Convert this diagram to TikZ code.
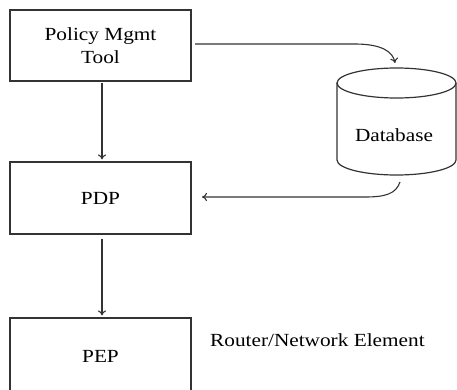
\documentclass[tikz,border=0pt]{standalone}
\usepackage{fontspec}
\setmainfont{Liberation Serif}[FakeStretch=1.15]
\usetikzlibrary{arrows.meta}
\tikzset{
  boxnode/.style={draw=black!80, line width=1.2pt, minimum width=181pt, minimum height=71pt, inner sep=0pt, align=center, font=\fontsize{18.5}{23}\selectfont},
  txt/.style={font=\fontsize{18.5}{23}\selectfont, inner sep=0pt},
  conn/.style={draw=black!80, line width=1.1pt, -{To[length=5pt,width=8pt]}},
  cyl/.style={draw=black!80, line width=1.2pt},
}
\begin{document}
\begin{tikzpicture}[x=1pt,y=-1pt]
\useasboundingbox (0,0) rectangle (457,390);
\node[boxnode] (policy) at (100.5,45.5) {Policy Mgmt\\Tool};
\node[boxnode, minimum height=72pt] (pdp) at (100.5,198) {PDP};
\node[boxnode, minimum height=80pt] (pep) at (100.5,358) {\raisebox{3pt}{PEP}};
% cylinder (database)
\node[minimum width=119pt, minimum height=107pt, inner sep=0pt] (db) at (396.5,121.5) {};
\draw[cyl] (396.5,83) ellipse [x radius=59.5pt, y radius=15pt];
\draw[cyl] (337,83) -- (337,160) arc[start angle=180, end angle=360, x radius=59.5pt, y radius=15pt] -- (456,83);
\node[txt] (dblabel) at (394,135) {Database};
\node[txt, anchor=west] (router) at (210,340) {Router/Network Element};
\coordinate (a1) at (195,44);
\coordinate (a2) at (395,63);
\coordinate (b1) at (400,182);
\coordinate (b2) at (202,197);
\draw[conn] (policy.south) ++(1.5,1) -- ([xshift=1.5pt,yshift=2pt]pdp.north);
\draw[conn] (pdp.south) ++(1.5,4) -- ([xshift=1.5pt,yshift=2pt]pep.north);
\draw[conn] (a1) -- (355,44) .. controls (382,44) and (393,52) .. (a2);
\draw[conn] (b1) .. controls (396,194) and (385,197) .. (365,197) -- (b2);
\end{tikzpicture}
\end{document}
